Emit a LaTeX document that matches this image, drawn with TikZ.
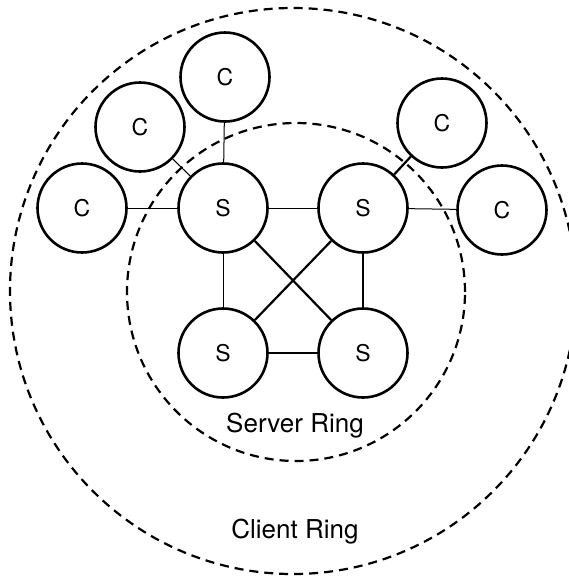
\documentclass[tikz,border=0pt]{standalone}
\usepackage{fontspec}
\setmainfont{TeX Gyre Heros}
\usepackage{tikz}
\usetikzlibrary{positioning}
\definecolor{RingInk}{HTML}{000000}

\begin{document}
\begin{tikzpicture}[x=1pt,y=-1pt,
  peer/.style={circle,draw=RingInk,line width=2.6pt,minimum size=89pt,inner sep=0pt,font=\fontsize{23}{23}\selectfont},
  ringline/.style={draw=RingInk,line width=2.2pt,dash pattern=on 9pt off 6pt},
  thinlink/.style={draw=RingInk,line width=1pt},
  thicklink/.style={draw=RingInk,line width=2.2pt},
  ringlabel/.style={anchor=base,font=\fontsize{26}{26}\selectfont,text=RingInk}]
\useasboundingbox (0,0) rectangle (569,579);
% rings
\draw[ringline] (293,291) circle[radius=283pt];
\draw[ringline] (296,292) circle[radius=169pt];
\node[ringlabel] (serverring) at (295,432) {Server Ring};
\node[ringlabel] (clientring) at (295,538) {Client Ring};
% servers
\node[peer] (stl) at (223,208) {S};
\node[peer] (str) at (363,208) {S};
\node[peer] (sbl) at (223,353) {S};
\node[peer] (sbr) at (363,353) {S};
% clients
\node[peer] (cl) at (82,208) {C};
\node[peer] (cul) at (140,127) {C};
\node[peer] (ct) at (225,77) {C};
\node[peer] (cur) at (442,123) {C};
\node[peer] (cr) at (502,210) {C};
% links
\draw[thinlink] (stl) -- (str);
\draw[thinlink] (stl) -- (sbl);
\draw[thicklink] (str) -- (sbr);
\draw[thicklink] (sbl) -- (sbr);
\draw[thicklink] (stl) -- (sbr);
\draw[thicklink] (str) -- (sbl);
\draw[thinlink] (cl) -- (stl);
\draw[thinlink] (cul) -- (stl);
\draw[thinlink] (ct) -- (stl);
\draw[thicklink] (cur) -- (str);
\draw[thinlink] (cr) -- (str);
\end{tikzpicture}
\end{document}
